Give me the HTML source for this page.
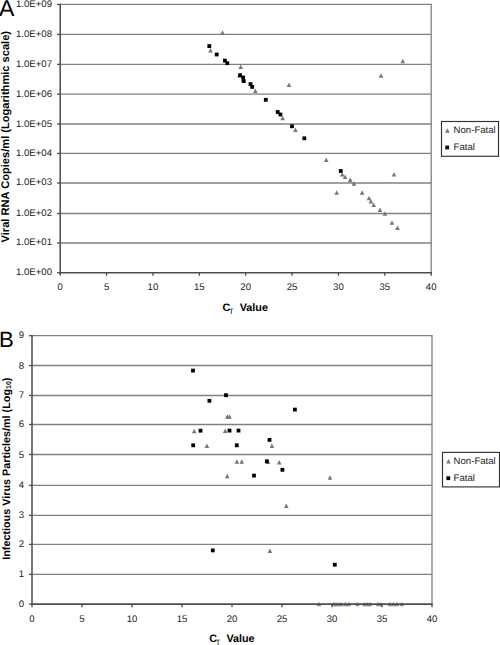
<!DOCTYPE html>
<html><head><meta charset="utf-8"><style>
html,body{margin:0;padding:0;background:#fff;}
body{width:500px;height:645px;overflow:hidden;}
svg{display:block;}
text{font-family:"Liberation Sans",sans-serif;text-rendering:geometricPrecision;}
.t{font-size:9.6px;fill:#1a1a1a;}
.b{font-size:10.8px;font-weight:bold;fill:#000;}
.s{font-size:7.6px;fill:#000;}
.ya{font-size:11.1px;}
.sub{font-size:7px;font-weight:bold;}
.L{font-size:22.6px;fill:#000;}
</style></head><body>
<svg width="500" height="645" viewBox="0 0 500 645">
<rect width="500" height="645" fill="#fff"/>
<line x1="60.2" y1="4.45" x2="431.2" y2="4.45" stroke="#808080" stroke-width="1.3"/>
<line x1="60.2" y1="34.40" x2="431.2" y2="34.40" stroke="#808080" stroke-width="1.3"/>
<line x1="60.2" y1="64.40" x2="431.2" y2="64.40" stroke="#808080" stroke-width="1.3"/>
<line x1="60.2" y1="94.20" x2="431.2" y2="94.20" stroke="#808080" stroke-width="1.3"/>
<line x1="60.2" y1="124.00" x2="431.2" y2="124.00" stroke="#808080" stroke-width="1.3"/>
<line x1="60.2" y1="153.40" x2="431.2" y2="153.40" stroke="#808080" stroke-width="1.3"/>
<line x1="60.2" y1="183.00" x2="431.2" y2="183.00" stroke="#808080" stroke-width="1.3"/>
<line x1="60.2" y1="213.50" x2="431.2" y2="213.50" stroke="#808080" stroke-width="1.3"/>
<line x1="60.2" y1="243.00" x2="431.2" y2="243.00" stroke="#808080" stroke-width="1.3"/>
<line x1="431.2" y1="3.8000000000000003" x2="431.2" y2="272.75" stroke="#808080" stroke-width="1.3"/>
<path d="M222.50 30.20L224.80 34.70L220.20 34.70Z" fill="#777777"/>
<path d="M210.50 47.90L212.80 52.40L208.20 52.40Z" fill="#777777"/>
<path d="M240.70 64.60L243.00 69.10L238.40 69.10Z" fill="#777777"/>
<path d="M239.40 73.10L241.70 77.60L237.10 77.60Z" fill="#777777"/>
<path d="M243.00 77.30L245.30 81.80L240.70 81.80Z" fill="#777777"/>
<path d="M255.30 88.40L257.60 92.90L253.00 92.90Z" fill="#777777"/>
<path d="M289.00 82.40L291.30 86.90L286.70 86.90Z" fill="#777777"/>
<path d="M282.60 115.80L284.90 120.30L280.30 120.30Z" fill="#777777"/>
<path d="M295.40 127.60L297.70 132.10L293.10 132.10Z" fill="#777777"/>
<path d="M326.20 157.40L328.50 161.90L323.90 161.90Z" fill="#777777"/>
<path d="M342.20 172.00L344.50 176.50L339.90 176.50Z" fill="#777777"/>
<path d="M345.10 174.40L347.40 178.90L342.80 178.90Z" fill="#777777"/>
<path d="M350.20 177.50L352.50 182.00L347.90 182.00Z" fill="#777777"/>
<path d="M353.90 181.20L356.20 185.70L351.60 185.70Z" fill="#777777"/>
<path d="M336.70 190.20L339.00 194.70L334.40 194.70Z" fill="#777777"/>
<path d="M362.10 190.20L364.40 194.70L359.80 194.70Z" fill="#777777"/>
<path d="M369.00 195.70L371.30 200.20L366.70 200.20Z" fill="#777777"/>
<path d="M370.90 199.10L373.20 203.60L368.60 203.60Z" fill="#777777"/>
<path d="M373.70 202.40L376.00 206.90L371.40 206.90Z" fill="#777777"/>
<path d="M380.00 207.50L382.30 212.00L377.70 212.00Z" fill="#777777"/>
<path d="M385.00 211.20L387.30 215.70L382.70 215.70Z" fill="#777777"/>
<path d="M392.00 220.30L394.30 224.80L389.70 224.80Z" fill="#777777"/>
<path d="M397.50 225.60L399.80 230.10L395.20 230.10Z" fill="#777777"/>
<path d="M394.00 172.00L396.30 176.50L391.70 176.50Z" fill="#777777"/>
<path d="M381.00 73.20L383.30 77.70L378.70 77.70Z" fill="#777777"/>
<path d="M402.80 58.80L405.10 63.30L400.50 63.30Z" fill="#777777"/>
<rect x="207.40" y="44.20" width="3.8" height="3.8" fill="#000000"/>
<rect x="214.80" y="52.60" width="3.8" height="3.8" fill="#000000"/>
<rect x="223.00" y="58.70" width="3.8" height="3.8" fill="#000000"/>
<rect x="225.40" y="61.30" width="3.8" height="3.8" fill="#000000"/>
<rect x="238.20" y="73.30" width="3.8" height="3.8" fill="#000000"/>
<rect x="241.20" y="75.60" width="3.8" height="3.8" fill="#000000"/>
<rect x="241.90" y="79.20" width="3.8" height="3.8" fill="#000000"/>
<rect x="248.60" y="82.20" width="3.8" height="3.8" fill="#000000"/>
<rect x="250.30" y="85.00" width="3.8" height="3.8" fill="#000000"/>
<rect x="263.90" y="97.90" width="3.8" height="3.8" fill="#000000"/>
<rect x="275.80" y="110.10" width="3.8" height="3.8" fill="#000000"/>
<rect x="278.50" y="112.60" width="3.8" height="3.8" fill="#000000"/>
<rect x="290.10" y="124.40" width="3.8" height="3.8" fill="#000000"/>
<rect x="302.40" y="136.40" width="3.8" height="3.8" fill="#000000"/>
<rect x="338.80" y="169.10" width="3.8" height="3.8" fill="#000000"/>
<line x1="60.2" y1="3.75" x2="60.2" y2="273.55" stroke="#4c4c4c" stroke-width="1.5"/>
<line x1="59.300000000000004" y1="272.75" x2="431.9" y2="272.75" stroke="#4c4c4c" stroke-width="1.6"/>
<line x1="57" y1="4.45" x2="60.2" y2="4.45" stroke="#4c4c4c" stroke-width="1.3"/>
<text x="52" y="7.41" class="t" text-anchor="end">1.0E+09</text>
<line x1="57" y1="34.40" x2="60.2" y2="34.40" stroke="#4c4c4c" stroke-width="1.3"/>
<text x="52" y="37.21" class="t" text-anchor="end">1.0E+08</text>
<line x1="57" y1="64.40" x2="60.2" y2="64.40" stroke="#4c4c4c" stroke-width="1.3"/>
<text x="52" y="66.51" class="t" text-anchor="end">1.0E+07</text>
<line x1="57" y1="94.20" x2="60.2" y2="94.20" stroke="#4c4c4c" stroke-width="1.3"/>
<text x="52" y="96.51" class="t" text-anchor="end">1.0E+06</text>
<line x1="57" y1="124.00" x2="60.2" y2="124.00" stroke="#4c4c4c" stroke-width="1.3"/>
<text x="52" y="126.51" class="t" text-anchor="end">1.0E+05</text>
<line x1="57" y1="153.40" x2="60.2" y2="153.40" stroke="#4c4c4c" stroke-width="1.3"/>
<text x="52" y="155.51" class="t" text-anchor="end">1.0E+04</text>
<line x1="57" y1="183.00" x2="60.2" y2="183.00" stroke="#4c4c4c" stroke-width="1.3"/>
<text x="52" y="185.31" class="t" text-anchor="end">1.0E+03</text>
<line x1="57" y1="213.50" x2="60.2" y2="213.50" stroke="#4c4c4c" stroke-width="1.3"/>
<text x="52" y="216.21" class="t" text-anchor="end">1.0E+02</text>
<line x1="57" y1="243.00" x2="60.2" y2="243.00" stroke="#4c4c4c" stroke-width="1.3"/>
<text x="52" y="245.31" class="t" text-anchor="end">1.0E+01</text>
<line x1="57" y1="272.75" x2="60.2" y2="272.75" stroke="#4c4c4c" stroke-width="1.3"/>
<text x="52" y="275.16" class="t" text-anchor="end">1.0E+00</text>
<line x1="60.20" y1="272.75" x2="60.20" y2="275.75" stroke="#4c4c4c" stroke-width="1.3"/>
<text x="60.20" y="290.05" class="t" text-anchor="middle">0</text>
<line x1="106.58" y1="272.75" x2="106.58" y2="275.75" stroke="#4c4c4c" stroke-width="1.3"/>
<text x="106.58" y="290.05" class="t" text-anchor="middle">5</text>
<line x1="152.95" y1="272.75" x2="152.95" y2="275.75" stroke="#4c4c4c" stroke-width="1.3"/>
<text x="152.95" y="290.05" class="t" text-anchor="middle">10</text>
<line x1="199.32" y1="272.75" x2="199.32" y2="275.75" stroke="#4c4c4c" stroke-width="1.3"/>
<text x="199.32" y="290.05" class="t" text-anchor="middle">15</text>
<line x1="245.70" y1="272.75" x2="245.70" y2="275.75" stroke="#4c4c4c" stroke-width="1.3"/>
<text x="245.70" y="290.05" class="t" text-anchor="middle">20</text>
<line x1="292.07" y1="272.75" x2="292.07" y2="275.75" stroke="#4c4c4c" stroke-width="1.3"/>
<text x="292.07" y="290.05" class="t" text-anchor="middle">25</text>
<line x1="338.45" y1="272.75" x2="338.45" y2="275.75" stroke="#4c4c4c" stroke-width="1.3"/>
<text x="338.45" y="290.05" class="t" text-anchor="middle">30</text>
<line x1="384.82" y1="272.75" x2="384.82" y2="275.75" stroke="#4c4c4c" stroke-width="1.3"/>
<text x="384.82" y="290.05" class="t" text-anchor="middle">35</text>
<line x1="431.20" y1="272.75" x2="431.20" y2="275.75" stroke="#4c4c4c" stroke-width="1.3"/>
<text x="431.20" y="290.05" class="t" text-anchor="middle">40</text>
<rect x="441.5" y="121.5" width="57" height="34.8" fill="#fff" stroke="#333" stroke-width="1.15"/>
<path d="M447.40 128.20L449.70 132.70L445.10 132.70Z" fill="#777777"/>
<rect x="445.30" y="145.60" width="3.8" height="3.8" fill="#000000"/>
<text x="453.6" y="133.2" class="t">Non-Fatal</text>
<text x="453.6" y="150" class="t">Fatal</text>
<text x="222.5" y="310.8" class="b">C</text><text x="229" y="313.7" class="s">T</text><text x="239.7" y="310.8" class="b">Value</text>
<text transform="translate(8.9,136.7) rotate(-90)" class="b ya" text-anchor="middle">Viral RNA Copies/ml (Logarithmic scale)</text>
<text x="-0.9" y="16.2" class="L" style="font-size:23px">A</text>
<line x1="32.0" y1="335.70" x2="432.0" y2="335.70" stroke="#808080" stroke-width="1.3"/>
<line x1="32.0" y1="365.50" x2="432.0" y2="365.50" stroke="#808080" stroke-width="1.3"/>
<line x1="32.0" y1="395.50" x2="432.0" y2="395.50" stroke="#808080" stroke-width="1.3"/>
<line x1="32.0" y1="424.50" x2="432.0" y2="424.50" stroke="#808080" stroke-width="1.3"/>
<line x1="32.0" y1="454.50" x2="432.0" y2="454.50" stroke="#808080" stroke-width="1.3"/>
<line x1="32.0" y1="485.40" x2="432.0" y2="485.40" stroke="#808080" stroke-width="1.3"/>
<line x1="32.0" y1="515.40" x2="432.0" y2="515.40" stroke="#808080" stroke-width="1.3"/>
<line x1="32.0" y1="544.40" x2="432.0" y2="544.40" stroke="#808080" stroke-width="1.3"/>
<line x1="32.0" y1="574.40" x2="432.0" y2="574.40" stroke="#808080" stroke-width="1.3"/>
<line x1="432.0" y1="335.05" x2="432.0" y2="604.15" stroke="#808080" stroke-width="1.3"/>
<path d="M194.20 428.80L196.50 433.30L191.90 433.30Z" fill="#777777"/>
<path d="M225.20 428.50L227.50 433.00L222.90 433.00Z" fill="#777777"/>
<path d="M227.30 414.30L229.60 418.80L225.00 418.80Z" fill="#777777"/>
<path d="M229.50 414.30L231.80 418.80L227.20 418.80Z" fill="#777777"/>
<path d="M206.90 443.50L209.20 448.00L204.60 448.00Z" fill="#777777"/>
<path d="M227.20 473.70L229.50 478.20L224.90 478.20Z" fill="#777777"/>
<path d="M236.90 459.20L239.20 463.70L234.60 463.70Z" fill="#777777"/>
<path d="M241.80 459.20L244.10 463.70L239.50 463.70Z" fill="#777777"/>
<path d="M271.90 443.60L274.20 448.10L269.60 448.10Z" fill="#777777"/>
<path d="M267.90 459.60L270.20 464.10L265.60 464.10Z" fill="#777777"/>
<path d="M279.20 460.10L281.50 464.60L276.90 464.60Z" fill="#777777"/>
<path d="M286.30 503.60L288.60 508.10L284.00 508.10Z" fill="#777777"/>
<path d="M330.00 475.20L332.30 479.70L327.70 479.70Z" fill="#777777"/>
<path d="M269.90 548.60L272.20 553.10L267.60 553.10Z" fill="#777777"/>
<path d="M318.90 601.75L321.20 606.25L316.60 606.25Z" fill="#8a8a8a"/>
<path d="M333.60 601.75L335.90 606.25L331.30 606.25Z" fill="#8a8a8a"/>
<path d="M336.00 601.75L338.30 606.25L333.70 606.25Z" fill="#8a8a8a"/>
<path d="M339.00 601.75L341.30 606.25L336.70 606.25Z" fill="#8a8a8a"/>
<path d="M341.40 601.75L343.70 606.25L339.10 606.25Z" fill="#8a8a8a"/>
<path d="M345.40 601.75L347.70 606.25L343.10 606.25Z" fill="#8a8a8a"/>
<path d="M348.70 601.75L351.00 606.25L346.40 606.25Z" fill="#8a8a8a"/>
<path d="M357.40 601.75L359.70 606.25L355.10 606.25Z" fill="#8a8a8a"/>
<path d="M364.60 601.75L366.90 606.25L362.30 606.25Z" fill="#8a8a8a"/>
<path d="M367.60 601.75L369.90 606.25L365.30 606.25Z" fill="#8a8a8a"/>
<path d="M370.00 601.75L372.30 606.25L367.70 606.25Z" fill="#8a8a8a"/>
<path d="M378.20 601.75L380.50 606.25L375.90 606.25Z" fill="#8a8a8a"/>
<path d="M381.00 601.75L383.30 606.25L378.70 606.25Z" fill="#8a8a8a"/>
<path d="M389.80 601.75L392.10 606.25L387.50 606.25Z" fill="#8a8a8a"/>
<path d="M393.40 601.75L395.70 606.25L391.10 606.25Z" fill="#8a8a8a"/>
<path d="M397.00 601.75L399.30 606.25L394.70 606.25Z" fill="#8a8a8a"/>
<path d="M401.80 601.75L404.10 606.25L399.50 606.25Z" fill="#8a8a8a"/>
<rect x="191.10" y="368.70" width="3.8" height="3.8" fill="#000000"/>
<rect x="207.50" y="398.90" width="3.8" height="3.8" fill="#000000"/>
<rect x="224.10" y="393.30" width="3.8" height="3.8" fill="#000000"/>
<rect x="198.60" y="428.80" width="3.8" height="3.8" fill="#000000"/>
<rect x="227.60" y="428.70" width="3.8" height="3.8" fill="#000000"/>
<rect x="236.60" y="428.70" width="3.8" height="3.8" fill="#000000"/>
<rect x="191.30" y="443.40" width="3.8" height="3.8" fill="#000000"/>
<rect x="234.90" y="443.40" width="3.8" height="3.8" fill="#000000"/>
<rect x="267.60" y="438.00" width="3.8" height="3.8" fill="#000000"/>
<rect x="293.00" y="407.70" width="3.8" height="3.8" fill="#000000"/>
<rect x="265.00" y="459.40" width="3.8" height="3.8" fill="#000000"/>
<rect x="280.50" y="467.90" width="3.8" height="3.8" fill="#000000"/>
<rect x="252.10" y="473.70" width="3.8" height="3.8" fill="#000000"/>
<rect x="210.90" y="548.50" width="3.8" height="3.8" fill="#000000"/>
<rect x="332.90" y="562.80" width="3.8" height="3.8" fill="#000000"/>
<line x1="32.0" y1="335.0" x2="32.0" y2="604.9499999999999" stroke="#4c4c4c" stroke-width="1.5"/>
<line x1="31.1" y1="604.15" x2="432.7" y2="604.15" stroke="#4c4c4c" stroke-width="1.6"/>
<line x1="29" y1="335.70" x2="32.0" y2="335.70" stroke="#4c4c4c" stroke-width="1.3"/>
<text x="24.2" y="338.22" class="t" text-anchor="end">9</text>
<line x1="29" y1="365.50" x2="32.0" y2="365.50" stroke="#4c4c4c" stroke-width="1.3"/>
<text x="24.2" y="369.07" class="t" text-anchor="end">8</text>
<line x1="29" y1="395.50" x2="32.0" y2="395.50" stroke="#4c4c4c" stroke-width="1.3"/>
<text x="24.2" y="398.12" class="t" text-anchor="end">7</text>
<line x1="29" y1="424.50" x2="32.0" y2="424.50" stroke="#4c4c4c" stroke-width="1.3"/>
<text x="24.2" y="427.32" class="t" text-anchor="end">6</text>
<line x1="29" y1="454.50" x2="32.0" y2="454.50" stroke="#4c4c4c" stroke-width="1.3"/>
<text x="24.2" y="457.92" class="t" text-anchor="end">5</text>
<line x1="29" y1="485.40" x2="32.0" y2="485.40" stroke="#4c4c4c" stroke-width="1.3"/>
<text x="24.2" y="487.72" class="t" text-anchor="end">4</text>
<line x1="29" y1="515.40" x2="32.0" y2="515.40" stroke="#4c4c4c" stroke-width="1.3"/>
<text x="24.2" y="517.62" class="t" text-anchor="end">3</text>
<line x1="29" y1="544.40" x2="32.0" y2="544.40" stroke="#4c4c4c" stroke-width="1.3"/>
<text x="24.2" y="546.92" class="t" text-anchor="end">2</text>
<line x1="29" y1="574.40" x2="32.0" y2="574.40" stroke="#4c4c4c" stroke-width="1.3"/>
<text x="24.2" y="576.72" class="t" text-anchor="end">1</text>
<line x1="29" y1="604.15" x2="32.0" y2="604.15" stroke="#4c4c4c" stroke-width="1.3"/>
<text x="24.2" y="607.27" class="t" text-anchor="end">0</text>
<line x1="32.00" y1="604.15" x2="32.00" y2="607.15" stroke="#4c4c4c" stroke-width="1.3"/>
<text x="32.00" y="622.4499999999999" class="t" text-anchor="middle">0</text>
<line x1="82.00" y1="604.15" x2="82.00" y2="607.15" stroke="#4c4c4c" stroke-width="1.3"/>
<text x="82.00" y="622.4499999999999" class="t" text-anchor="middle">5</text>
<line x1="132.00" y1="604.15" x2="132.00" y2="607.15" stroke="#4c4c4c" stroke-width="1.3"/>
<text x="132.00" y="622.4499999999999" class="t" text-anchor="middle">10</text>
<line x1="182.00" y1="604.15" x2="182.00" y2="607.15" stroke="#4c4c4c" stroke-width="1.3"/>
<text x="182.00" y="622.4499999999999" class="t" text-anchor="middle">15</text>
<line x1="232.00" y1="604.15" x2="232.00" y2="607.15" stroke="#4c4c4c" stroke-width="1.3"/>
<text x="232.00" y="622.4499999999999" class="t" text-anchor="middle">20</text>
<line x1="282.00" y1="604.15" x2="282.00" y2="607.15" stroke="#4c4c4c" stroke-width="1.3"/>
<text x="282.00" y="622.4499999999999" class="t" text-anchor="middle">25</text>
<line x1="332.00" y1="604.15" x2="332.00" y2="607.15" stroke="#4c4c4c" stroke-width="1.3"/>
<text x="332.00" y="622.4499999999999" class="t" text-anchor="middle">30</text>
<line x1="382.00" y1="604.15" x2="382.00" y2="607.15" stroke="#4c4c4c" stroke-width="1.3"/>
<text x="382.00" y="622.4499999999999" class="t" text-anchor="middle">35</text>
<line x1="432.00" y1="604.15" x2="432.00" y2="607.15" stroke="#4c4c4c" stroke-width="1.3"/>
<text x="432.00" y="622.4499999999999" class="t" text-anchor="middle">40</text>
<rect x="442.5" y="452.4" width="57" height="34.5" fill="#fff" stroke="#333" stroke-width="1.15"/>
<path d="M448.50 458.90L450.80 463.40L446.20 463.40Z" fill="#777777"/>
<rect x="446.40" y="476.30" width="3.8" height="3.8" fill="#000000"/>
<text x="453.6" y="463.9" class="t">Non-Fatal</text>
<text x="453.6" y="481.3" class="t">Fatal</text>
<text x="209.2" y="642.3" class="b">C</text><text x="215.7" y="645.2" class="s">T</text><text x="226.4" y="642.3" class="b">Value</text>
<text transform="translate(9.8,468.7) rotate(-90)" class="b" text-anchor="middle">Infectious Virus Particles/ml (Log<tspan class="sub" dy="1.5">10</tspan><tspan dy="-1.5">)</tspan></text>
<text x="-1.0" y="346.8" class="L" style="font-size:22.2px">B</text>
</svg>
</body></html>
